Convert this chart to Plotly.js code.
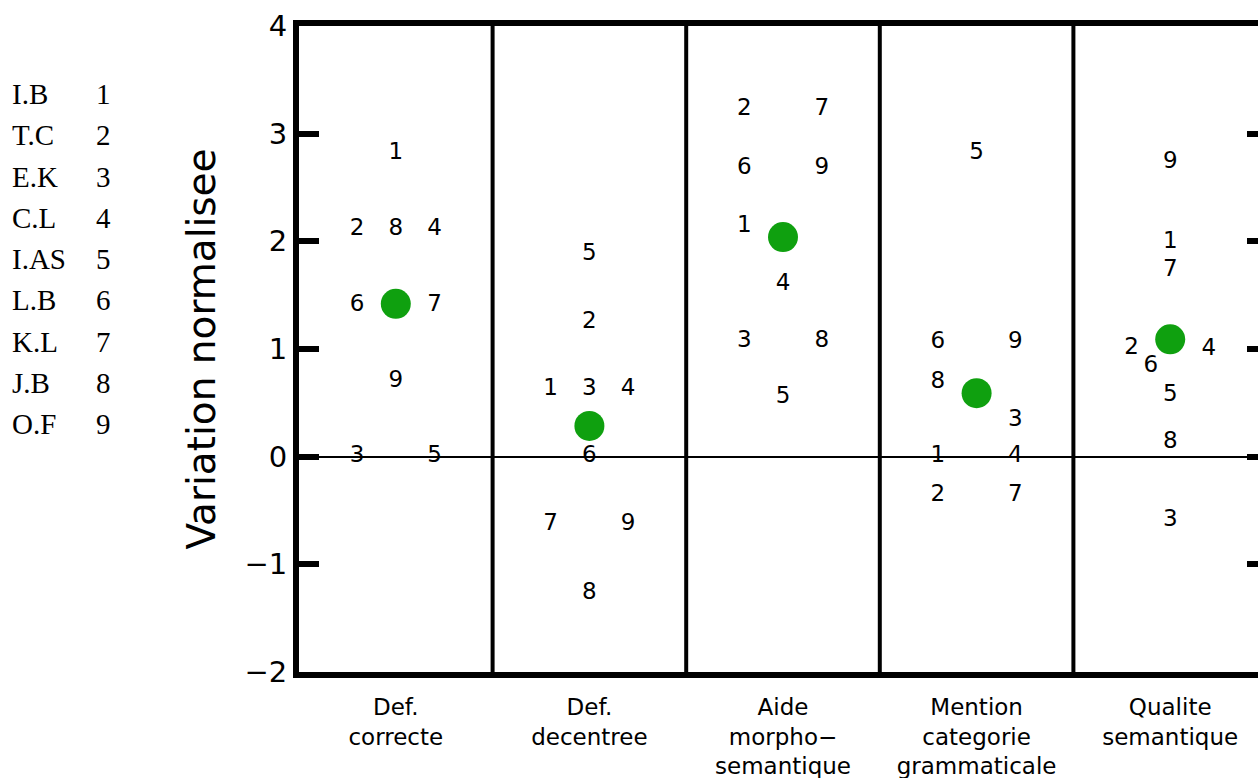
<!DOCTYPE html>
<html>
<head>
<meta charset="utf-8">
<script src="https://cdn.plot.ly/plotly-3.0.1.min.js"></script>
<style>
html, body { margin: 0; padding: 0; overflow: hidden; background: #fff; }
#chart { width: 1280px; height: 778px; }
</style>
</head>
<body>
<div id="chart"></div>
<script>
// ---- data ----
var categories = ["Def.<br>correcte", "Def.<br>decentree", "Aide<br>morpho\u2212<br>semantique", "Mention<br>categorie<br>grammaticale", "Qualite<br>semantique"];
var participantIds = ["1", "2", "3", "4", "5", "6", "7", "8", "9"];
var participantNames = ["I.B", "T.C", "E.K", "C.L", "I.AS", "L.B", "K.L", "J.B", "O.F"];
// values per condition, participants 1..9
var defCorrecte   = [2.82, 2.11, 0.00, 2.11, 0.00, 1.41, 1.41, 2.11, 0.70];
var defDecentree  = [0.63, 1.25, 0.63, 0.63, 1.88, 0.00, -0.63, -1.27, -0.63];
var aideMorpho    = [2.14, 3.23, 1.07, 1.60, 0.55, 2.68, 3.23, 1.07, 2.68];
var mentionCat    = [0.00, -0.36, 0.34, 0.00, 2.82, 1.06, -0.36, 0.69, 1.06];
var qualiteSem    = [1.99, 1.01, -0.59, 1.00, 0.57, 0.84, 1.73, 0.13, 2.73];
// label column inside each panel (-1 left, 0 centre, +1 right)
var colDefCorrecte  = [0, -1, -1, 1, 1, -1, 1, 0, 0];
var colDefDecentree = [-1, 0, 0, 1, 0, 0, -1, 0, 1];
var colAideMorpho   = [-1, -1, -1, 0, 0, -1, 1, 1, 1];
var colMentionCat   = [-1, -1, 1, 1, 0, -1, 1, -1, 1];
var colQualiteSem   = [0, -1, 0, 1, 0, -0.5, 0, 0, 0];
// mean per condition (green dots)
var means = [1.42, 0.285, 2.04, 0.59, 1.09];
var yTicks = [-2, -1, 0, 1, 2, 3, 4];

var seriesValues = [defCorrecte, defDecentree, aideMorpho, mentionCat, qualiteSem];
var seriesCols = [colDefCorrecte, colDefDecentree, colAideMorpho, colMentionCat, colQualiteSem];

// ---- layout helpers ----
var W = 1280, H = 778;
var mL = 299, mR = 13, mT = 26, mB = 106;
var plotW = W - mL - mR, plotH = H - mT - mB;
function px2paperX(px) { return (px - mL) / plotW; }
function px2paperY(py) { return (H - mB - py) / plotH; }

var colStep = 0.2;
var digitFont = { family: "DejaVu Sans", size: 23, color: "#000" };

var traces = [];
var xpos = categories.map(function (c, i) { return i + 1; });

seriesValues.forEach(function (vals, ci) {
  traces.push({
    type: "scatter",
    mode: "text",
    x: vals.map(function (v, k) { return xpos[ci] + seriesCols[ci][k] * colStep; }),
    y: vals,
    text: participantIds,
    textposition: "middle center",
    textfont: digitFont,
    showlegend: false,
    cliponaxis: false,
    hoverinfo: "skip"
  });
});

traces.push({
  type: "scatter",
  mode: "markers",
  x: xpos,
  y: means,
  marker: { size: 30, color: "#0fa00f", line: { width: 0 } },
  showlegend: false,
  hoverinfo: "skip"
});

var shapes = xpos.slice(0, xpos.length - 1).map(function (x) {
  return {
    type: "line", xref: "x", yref: "paper",
    x0: x + 0.5, x1: x + 0.5, y0: 0, y1: 1,
    line: { color: "#000", width: 4 }, layer: "below"
  };
});

var annotations = [];
var rowTop = 94, rowStep = 41.25;
participantNames.forEach(function (name, k) {
  var py = rowTop + k * rowStep;
  annotations.push({
    xref: "paper", yref: "paper",
    x: px2paperX(10), y: px2paperY(py),
    xanchor: "left", yanchor: "middle",
    text: name, showarrow: false,
    font: { family: "Liberation Serif", size: 29, color: "#000" }
  });
  annotations.push({
    xref: "paper", yref: "paper",
    x: px2paperX(94), y: px2paperY(py),
    xanchor: "left", yanchor: "middle",
    text: participantIds[k], showarrow: false,
    font: { family: "Liberation Serif", size: 29, color: "#000" }
  });
});

var layout = {
  width: W, height: H,
  margin: { l: mL, r: mR, t: mT, b: mB, pad: 0 },
  paper_bgcolor: "#fff", plot_bgcolor: "#fff",
  showlegend: false,
  xaxis: {
    range: [0.5, categories.length + 0.5],
    tickmode: "array", tickvals: xpos, ticktext: categories,
    ticks: "", showgrid: false, zeroline: false,
    showline: true, linecolor: "#000", linewidth: 6, mirror: true,
    tickfont: { family: "DejaVu Sans", size: 23, color: "#000" },
    ticklabelstandoff: 9,
    fixedrange: true
  },
  yaxis: {
    range: [-2, 4],
    tickmode: "array", tickvals: yTicks,
    ticks: "inside", ticklen: 20, tickwidth: 6, tickcolor: "#000",
    showgrid: false,
    zeroline: true, zerolinecolor: "#000", zerolinewidth: 2,
    showline: true, linecolor: "#000", linewidth: 6, mirror: "ticks",
    tickfont: { family: "DejaVu Sans", size: 29, color: "#000" },
    title: { text: "Variation normalisee", font: { family: "DejaVu Sans", size: 39, color: "#000" }, standoff: 19 },
    fixedrange: true
  },
  shapes: shapes,
  annotations: annotations
};

Plotly.newPlot("chart", traces, layout, { staticPlot: true, displayModeBar: false });
</script>
</body>
</html>
